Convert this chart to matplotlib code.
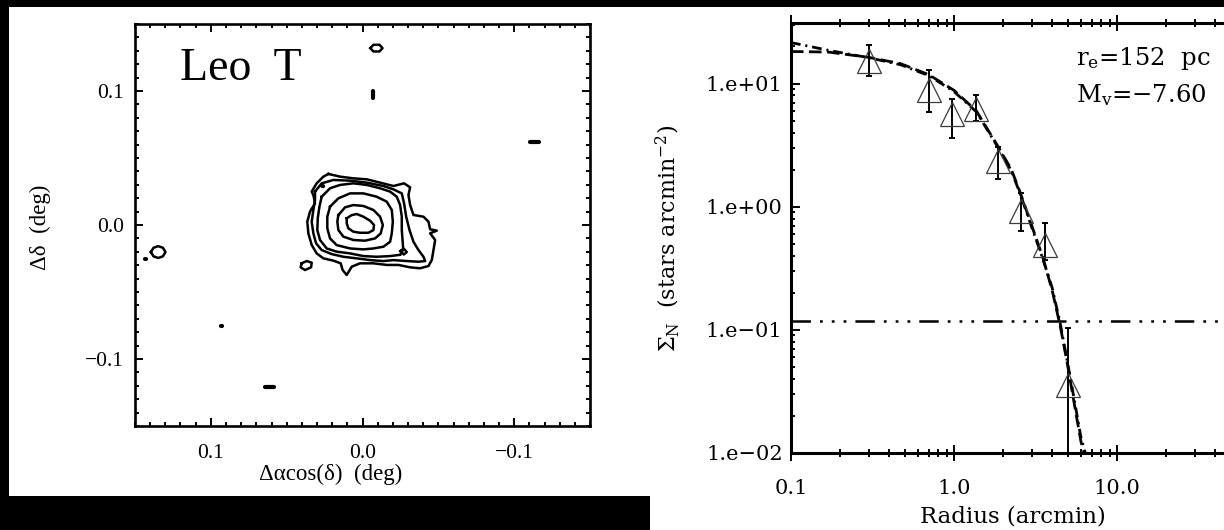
import numpy as np
import matplotlib
matplotlib.use("Agg")
import matplotlib.pyplot as plt
from matplotlib.patches import Rectangle
from matplotlib.ticker import FixedLocator, MultipleLocator, LogLocator, FuncFormatter, NullFormatter

plt.rcParams["mathtext.fontset"] = "dejavuserif"
plt.rcParams["lines.scale_dashes"] = False

contour_1 = [(0.0225, 0.0381), (0.0148, 0.0361), (0.0060, 0.0348), (-0.0028, 0.0341),
             (-0.0116, 0.0316), (-0.0204, 0.0291), (-0.0274, 0.0311), (-0.0314, 0.0281),
             (-0.0303, 0.0224), (-0.0314, 0.0149), (-0.0336, 0.0075), (-0.0402, 0.0062),
             (-0.0435, 0.0025), (-0.0446, -0.0032), (-0.0490, -0.0042), (-0.0446, -0.0062),
             (-0.0479, -0.0112), (-0.0468, -0.0187), (-0.0457, -0.0261), (-0.0435, -0.0306),
             (-0.0380, -0.0323), (-0.0314, -0.0316), (-0.0237, -0.0298), (-0.0160, -0.0298),
             (-0.0072, -0.0286), (0.0016, -0.0286), (0.0071, -0.0311), (0.0104, -0.0373),
             (0.0131, -0.0336), (0.0144, -0.0286), (0.0192, -0.0266), (0.0258, -0.0249),
             (0.0302, -0.0212), (0.0335, -0.0149), (0.0357, -0.0062), (0.0364, 0.0025),
             (0.0346, 0.0100), (0.0313, 0.0162), (0.0324, 0.0224), (0.0335, 0.0249),
             (0.0302, 0.0311), (0.0258, 0.0361)]
contour_2 = [(0.0313, 0.0249), (0.0269, 0.0311), (0.0192, 0.0336), (0.0082, 0.0331),
             (-0.0028, 0.0316), (-0.0138, 0.0291), (-0.0204, 0.0266), (-0.0259, 0.0236),
             (-0.0274, 0.0162), (-0.0288, 0.0062), (-0.0310, -0.0038), (-0.0336, -0.0125),
             (-0.0369, -0.0187), (-0.0402, -0.0237), (-0.0413, -0.0269), (-0.0369, -0.0274),
             (-0.0292, -0.0269), (-0.0204, -0.0262), (-0.0138, -0.0269), (-0.0050, -0.0262),
             (0.0038, -0.0249), (0.0126, -0.0237), (0.0203, -0.0217), (0.0269, -0.0187),
             (0.0306, -0.0137), (0.0324, -0.0062), (0.0335, 0.0025), (0.0324, 0.0112),
             (0.0313, 0.0187)]
contour_3 = [(0.0269, 0.0211), (0.0214, 0.0274), (0.0148, 0.0299), (0.0060, 0.0311),
             (-0.0028, 0.0299), (-0.0116, 0.0274), (-0.0182, 0.0249), (-0.0226, 0.0211),
             (-0.0248, 0.0149), (-0.0259, 0.0062), (-0.0259, -0.0038), (-0.0265, -0.0125),
             (-0.0268, -0.0180), (-0.0250, -0.0222), (-0.0182, -0.0232), (-0.0094, -0.0237),
             (-0.0006, -0.0232), (0.0082, -0.0212), (0.0170, -0.0199), (0.0236, -0.0175),
             (0.0280, -0.0112), (0.0298, -0.0038), (0.0295, 0.0050), (0.0284, 0.0137)]
contour_4 = [(0.0214, 0.0137), (0.0159, 0.0199), (0.0082, 0.0236), (-0.0006, 0.0236),
             (-0.0094, 0.0211), (-0.0160, 0.0174), (-0.0193, 0.0112), (-0.0200, 0.0025),
             (-0.0193, -0.0063), (-0.0182, -0.0125), (-0.0138, -0.0162), (-0.0072, -0.0175),
             (-0.0006, -0.0182), (0.0082, -0.0175), (0.0170, -0.0150), (0.0214, -0.0100),
             (0.0232, -0.0025), (0.0232, 0.0062)]
contour_5 = [(0.0159, 0.0074), (0.0115, 0.0132), (0.0060, 0.0149), (-0.0006, 0.0142),
             (-0.0072, 0.0112), (-0.0116, 0.0062), (-0.0134, 0.0000), (-0.0120, -0.0063),
             (-0.0083, -0.0100), (-0.0017, -0.0117), (0.0060, -0.0112), (0.0126, -0.0087),
             (0.0159, -0.0038), (0.0166, 0.0025)]
contour_6 = [(0.0104, 0.0050), (0.0071, 0.0074), (0.0038, 0.0082), (-0.0006, 0.0062),
             (-0.0050, 0.0032), (-0.0076, 0.0000), (-0.0072, -0.0038), (-0.0039, -0.0058),
             (0.0016, -0.0058), (0.0060, -0.0050), (0.0093, -0.0025), (0.0104, 0.0012)]
blob_inner = [(-0.0250, -0.0195), (-0.0272, -0.0176), (-0.0292, -0.0202), (-0.0272, -0.0220)]
blob_west = [(0.0401, -0.0286), (0.0368, -0.0269), (0.0335, -0.0281), (0.0339, -0.0316),
             (0.0379, -0.0336), (0.0408, -0.0316)]
blob_north = [(-0.0052, 0.1320), (-0.0072, 0.1345), (-0.0112, 0.1345), (-0.0132, 0.1320),
              (-0.0112, 0.1295), (-0.0072, 0.1295)]
blob_east = [(0.1395, -0.0202), (0.1378, -0.0170), (0.1347, -0.0158), (0.1316, -0.0170),
             (0.1299, -0.0202), (0.1316, -0.0234), (0.1347, -0.0246), (0.1378, -0.0234)]
contours = [contour_1, contour_2, contour_3, contour_4, contour_5, contour_6,
            blob_inner, blob_west, blob_north, blob_east]
# tiny unresolved peaks drawn as short strokes: (x0, x1, y0, y1)
dashes = [(0.0640, 0.0583, -0.1210, -0.1210), (-0.1106, -0.1161, 0.0618, 0.0618),
          (-0.0067, -0.0067, 0.0950, 0.1000), (0.0935, 0.0927, -0.0751, -0.0751),
          (0.1432, 0.1428, -0.0252, -0.0252), (0.0266, 0.0260, 0.0292, 0.0290)]

# ---- right panel: radial surface density profile ----
radius = [0.30, 0.705, 0.975, 1.37, 1.87, 2.56, 3.61, 4.98]
density = [15.1, 8.82, 5.66, 6.23, 2.33, 0.93, 0.491, 0.0357]
density_hi = [20.7, 12.9, 7.52, 8.02, 3.04, 1.28, 0.741, 0.103]
density_lo = [11.5, 5.84, 3.59, 4.99, 1.69, 0.635, 0.371, 0.0]
model_r = [0.1, 0.17, 0.3, 0.47, 0.7, 1.0, 1.37, 1.87, 2.25, 2.56, 3.0, 3.5, 4.0, 4.5,
           5.0, 5.5, 6.0, 6.5]
model_a = [21.5, 18.6, 16.2, 14.2, 11.6, 8.6, 5.9, 3.0, 1.95, 1.25, 0.68, 0.38, 0.22,
           0.11, 0.052, 0.026, 0.0135, 0.0092]
model_b = [18.2, 18.0, 16.3, 14.5, 11.8, 8.8, 6.0, 3.05, 2.0, 1.28, 0.70, 0.39, 0.21,
           0.105, 0.050, 0.024, 0.0125, 0.0085]
background = 0.118

W, H = 1224, 530
fig = plt.figure(figsize=(W / 100, H / 100), dpi=100, facecolor="black")
fig.patches.append(Rectangle((9 / W, 1 - 496 / H), 641 / W, 489 / H, transform=fig.transFigure,
                             facecolor="white", edgecolor="none", zorder=-10))
fig.patches.append(Rectangle((650 / W, 0), 574 / W, 1 - 7 / H, transform=fig.transFigure,
                             facecolor="white", edgecolor="none", zorder=-10))

# ---------------- left panel ----------------
serif_l = "Liberation Serif"
axL = fig.add_axes([135 / W, 1 - 426 / H, 455 / W, 402 / H])
for c in contours:
    pts = np.array(c + [c[0]])
    axL.plot(pts[:, 0], pts[:, 1], color="black", lw=1.8, solid_joinstyle="round")
for x0, x1, y0, y1 in dashes:
    axL.plot([x0, x1], [y0, y1], color="black", lw=3, solid_capstyle="round")
axL.set_xlim(0.15, -0.15)
axL.set_ylim(-0.15, 0.15)
fmt1 = FuncFormatter(lambda v, p: f"{v:.1f}".replace("-", "\u2212"))
for ax_ in (axL.xaxis, axL.yaxis):
    ax_.set_major_locator(FixedLocator([-0.1, 0.0, 0.1]))
    ax_.set_minor_locator(MultipleLocator(0.01))
    ax_.set_major_formatter(fmt1)
axL.tick_params(which="both", direction="in", top=True, right=True, width=1.4, labelsize=15.5)
axL.tick_params(which="major", length=6)
axL.tick_params(which="minor", length=3)
axL.tick_params(axis="x", pad=13)
axL.tick_params(axis="y", pad=8)
for lbl in axL.get_xticklabels() + axL.get_yticklabels():
    lbl.set_fontfamily(serif_l)
for s in axL.spines.values():
    s.set_linewidth(1.9)
axL.set_xlabel("\u0394\u03b1cos(\u03b4)  (deg)", fontfamily=serif_l, fontsize=16.5)
axL.set_ylabel("\u0394\u03b4  (deg)", fontfamily=serif_l, fontsize=16.5)
axL.xaxis.set_label_coords(0.43, -0.093)
axL.yaxis.set_label_coords(-0.185, 0.495)
axL.text(0.10, 0.861, "Leo  T", transform=axL.transAxes, fontfamily=serif_l, fontsize=33)

# ---------------- right panel ----------------
serif_r = "DejaVu Serif"
axR = fig.add_axes([791 / W, 1 - 453 / H, 489 / W, 430 / H])
axR.set_xscale("log")
axR.set_yscale("log")
axR.axhline(background, color="black", lw=1.8, linestyle=(0, (14, 6.5, 2, 6.5, 2, 6.5, 2, 6.5)))
axR.plot(model_r, model_a, color="black", lw=2.0, linestyle=(0, (7, 3.5, 1.5, 3.5)))
axR.plot(model_r, model_b, color="black", lw=2.0, linestyle=(0, (9, 4)))
yerr = [np.array(density) - np.array(density_lo), np.array(density_hi) - np.array(density)]
axR.errorbar(radius, density, yerr=yerr, fmt="none", ecolor="black", elinewidth=1.4,
             capsize=2.5, capthick=1.4)
axR.plot(radius, density, linestyle="none", marker="^", ms=17, mfc="none", mec="#3a3a3a",
         mew=0.9)
axR.set_xlim(0.1, 100)
axR.set_ylim(0.01, 31)
axR.xaxis.set_major_locator(LogLocator(base=10))
axR.xaxis.set_minor_locator(LogLocator(base=10, subs=np.arange(2, 10)))
axR.yaxis.set_major_locator(LogLocator(base=10))
axR.yaxis.set_minor_locator(LogLocator(base=10, subs=np.arange(2, 10)))
# the 100.0 label lies beyond the cropped right edge of the reference
axR.xaxis.set_major_formatter(FuncFormatter(lambda v, p: f"{v:.1f}" if v < 50 else ""))
axR.yaxis.set_major_formatter(FuncFormatter(
    lambda v, p: ("1.e%+03d" % round(np.log10(v))).replace("-", "\u2212")))
axR.xaxis.set_minor_formatter(NullFormatter())
axR.yaxis.set_minor_formatter(NullFormatter())
axR.tick_params(which="both", direction="in", top=True, right=True, width=1.4, labelsize=15)
axR.tick_params(which="major", length=6.5)
axR.tick_params(which="minor", length=3)
axR.tick_params(axis="x", which="major", bottom=True, direction="inout", length=12, pad=12.5)
axR.tick_params(axis="x", which="minor", bottom=True, direction="inout", length=6)
axR.tick_params(axis="x", which="both", top=True)
axR.tick_params(axis="y", pad=6)
for lbl in axR.get_xticklabels() + axR.get_yticklabels():
    lbl.set_fontfamily(serif_r)
for s in axR.spines.values():
    s.set_linewidth(2.2)
axR.set_xlabel("Radius (arcmin)", fontfamily=serif_r, fontsize=16.5)
axR.set_ylabel(r"$\Sigma_{\rm N}$  (stars arcmin$^{-2}$)", fontfamily=serif_r, fontsize=16)
axR.xaxis.set_label_coords(0.453, -0.121)
axR.yaxis.set_label_coords(-0.222, 0.5)
axR.text(0.583, 0.902, r"r$_{\rm e}$=152  pc", transform=axR.transAxes,
         fontfamily=serif_r, fontsize=17.5)
axR.text(0.583, 0.816, r"M$_{\rm v}$=$-$7.60", transform=axR.transAxes,
         fontfamily=serif_r, fontsize=17.5)

fig.savefig("out.png", dpi=100, facecolor=fig.get_facecolor())
